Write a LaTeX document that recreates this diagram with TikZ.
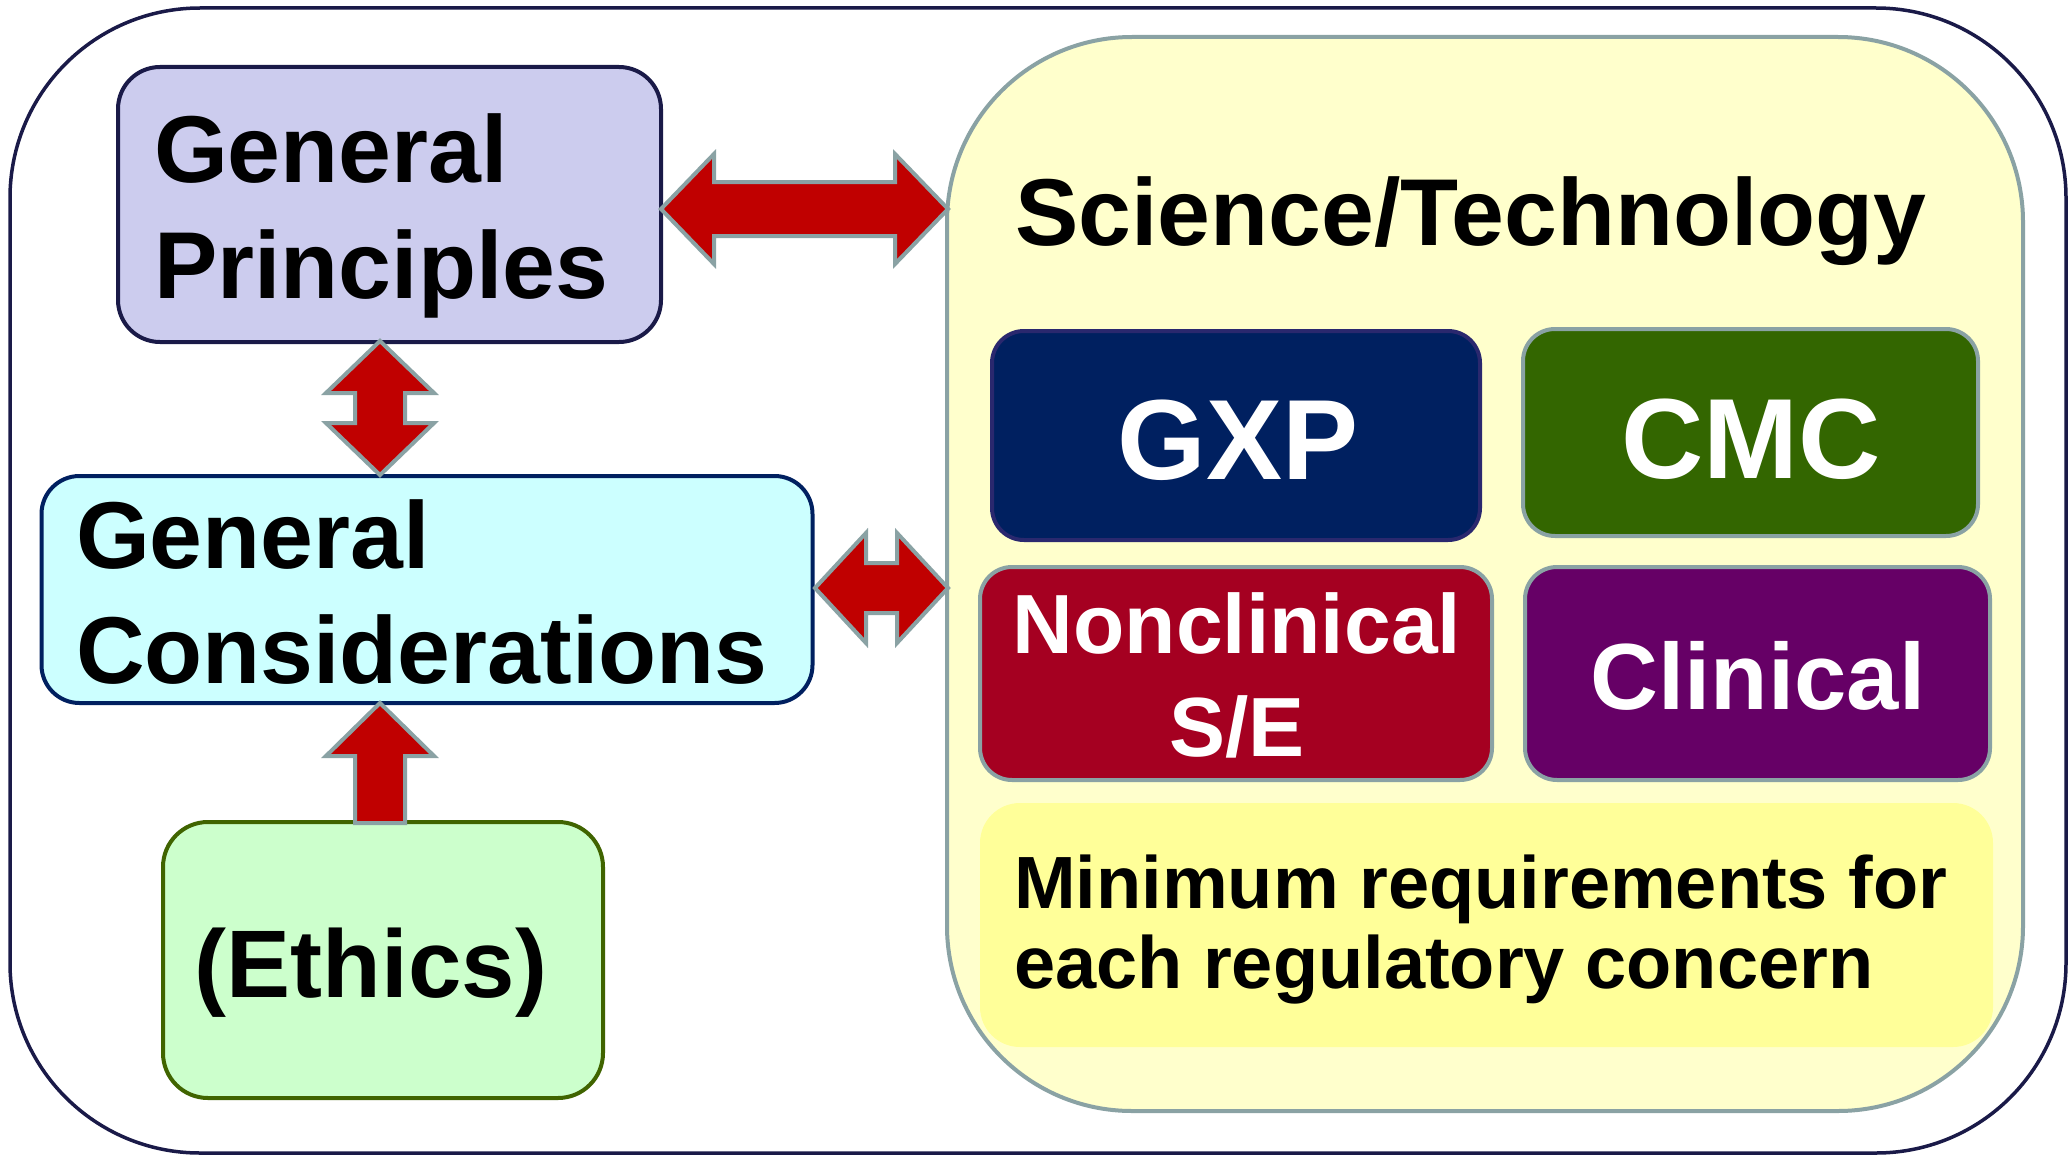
\documentclass[tikz,border=0pt]{standalone}
\usepackage{fontspec}
\setmainfont{Liberation Sans}
\usetikzlibrary{calc}
\definecolor{navyline}{RGB}{26,26,72}
\definecolor{grayline}{RGB}{138,162,164}
\definecolor{arrowred}{RGB}{192,0,0}
\definecolor{gpfill}{RGB}{204,204,238}
\definecolor{gcfill}{RGB}{204,255,255}
\definecolor{gcline}{RGB}{0,32,96}
\definecolor{ethfill}{RGB}{204,255,204}
\definecolor{ethline}{RGB}{64,100,0}
\definecolor{scifill}{RGB}{255,255,204}
\definecolor{gxpfill}{RGB}{0,32,96}
\definecolor{gxpline}{RGB}{42,40,110}
\definecolor{cmcfill}{RGB}{51,102,0}
\definecolor{ncfill}{RGB}{165,0,33}
\definecolor{clfill}{RGB}{102,0,102}
\definecolor{minfill}{RGB}{255,255,153}
\tikzset{
  box/.style={rectangle, inner sep=0pt, outer sep=0pt},
  blockarrow/.style={fill=arrowred, draw=grayline, line width=4pt, miter limit=10},
  txt/.style={inner sep=0pt, outer sep=0pt, font=\bfseries},
}
\begin{document}
\begin{tikzpicture}[x=1pt,y=-1pt]
\useasboundingbox (0,0) rectangle (2072,1156);
% outer frame
\node[box, draw=navyline, line width=3.5pt, fill=white, rounded corners=190pt,
  minimum width=2056pt, minimum height=1145pt] (outer) at (1038,580.5) {};
% science / technology container
\node[box, draw=grayline, line width=4pt, fill=scifill, rounded corners=185pt,
  minimum width=1076pt, minimum height=1074pt] (sci) at (1485,574) {};
\node[box, fill=minfill, rounded corners=40pt,
  minimum width=1013pt, minimum height=244pt] (minreq) at (1486.5,925) {};
% inner category boxes
\node[box, draw=gxpline, line width=4pt, fill=gxpfill, rounded corners=32pt,
  minimum width=488pt, minimum height=209pt] (gxp) at (1236,435.5) {};
\node[box, draw=grayline, line width=4pt, fill=cmcfill, rounded corners=32pt,
  minimum width=455pt, minimum height=207pt] (cmc) at (1750.5,432.5) {};
\node[box, draw=grayline, line width=4pt, fill=ncfill, rounded corners=32pt,
  minimum width=512pt, minimum height=213pt] (noncl) at (1236,673.5) {};
\node[box, draw=grayline, line width=4pt, fill=clfill, rounded corners=32pt,
  minimum width=465pt, minimum height=213pt] (clin) at (1757.5,673.5) {};
% left boxes
\node[box, draw=navyline, line width=4pt, fill=gpfill, rounded corners=42pt,
  minimum width=543pt, minimum height=275pt] (gp) at (389.5,204.5) {};
\node[box, draw=gcline, line width=4pt, fill=gcfill, rounded corners=38pt,
  minimum width=771pt, minimum height=227pt] (gc) at (427,589.5) {};
\node[box, draw=ethline, line width=4pt, fill=ethfill, rounded corners=45pt,
  minimum width=440pt, minimum height=276pt] (eth) at (383,960) {};
% coordinates for arrows
\coordinate (a1s) at (661,209);
\coordinate (a1e) at (948,209);
\coordinate (a2s) at (380,341);
\coordinate (a2e) at (380,475);
\coordinate (a3s) at (815,588);
\coordinate (a3e) at (948,588);
\coordinate (a4s) at (380,823);
\coordinate (a4e) at (380,703);
% horizontal double arrow GP <-> Sci
\draw[blockarrow] let \p1=(a1s), \p2=(a1e) in
  (\x1,\y1) -- (\x1+53pt,\y1+55pt) -- (\x1+53pt,\y1+27pt) -- (\x2-53pt,\y1+27pt)
  -- (\x2-53pt,\y1+55pt) -- (\x2,\y1) -- (\x2-53pt,\y1-55pt) -- (\x2-53pt,\y1-27pt)
  -- (\x1+53pt,\y1-27pt) -- (\x1+53pt,\y1-55pt) -- cycle;
% vertical double arrow GP <-> GC
\draw[blockarrow] let \p1=(a2s), \p2=(a2e) in
  (\x1,\y1) -- (\x1+54pt,\y1-52pt) -- (\x1+25pt,\y1-52pt) -- (\x1+25pt,\y2+52pt)
  -- (\x1+54pt,\y2+52pt) -- (\x1,\y2) -- (\x1-54pt,\y2+52pt) -- (\x1-25pt,\y2+52pt)
  -- (\x1-25pt,\y1-52pt) -- (\x1-54pt,\y1-52pt) -- cycle;
% horizontal double arrow GC <-> Sci
\draw[blockarrow] let \p1=(a3s), \p2=(a3e) in
  (\x1,\y1) -- (\x1+51pt,\y1+55pt) -- (\x1+51pt,\y1+25pt) -- (\x2-51pt,\y1+25pt)
  -- (\x2-51pt,\y1+55pt) -- (\x2,\y1) -- (\x2-51pt,\y1-55pt) -- (\x2-51pt,\y1-25pt)
  -- (\x1+51pt,\y1-25pt) -- (\x1+51pt,\y1-55pt) -- cycle;
% up arrow Ethics -> GC
\draw[blockarrow] let \p1=(a4s), \p2=(a4e) in
  (\x2,\y2) -- (\x2+54pt,\y2-53pt) -- (\x2+25pt,\y2-53pt) -- (\x2+25pt,\y1)
  -- (\x2-25pt,\y1) -- (\x2-25pt,\y2-53pt) -- (\x2-54pt,\y2-53pt) -- cycle;
% texts
\node[txt, anchor=base west, font=\bfseries\fontsize{95}{110}\selectfont] (gpt1) at (154,182) {General};
\node[txt, anchor=base west, font=\bfseries\fontsize{95}{110}\selectfont] (gpt2) at (154,298) {Principles};
\node[txt, anchor=base west, font=\bfseries\fontsize{95}{110}\selectfont] (gct1) at (76,568) {General};
\node[txt, anchor=base west, font=\bfseries\fontsize{95}{110}\selectfont] (gct2) at (76,683) {Considerations};
\node[txt, anchor=base, font=\bfseries\fontsize{96}{110}\selectfont] (etht) at (371,997) {(Ethics)};
\node[txt, anchor=base west, font=\bfseries\fontsize{95}{110}\selectfont] (scit) at (1015,245) {Science/Technology};
\node[txt, anchor=base, text=white, font=\bfseries\fontsize{114}{130}\selectfont] (gxpt) at (1238,479) {GXP};
\node[txt, anchor=base, text=white, font=\bfseries\fontsize{114}{130}\selectfont] (cmct) at (1751,478) {CMC};
\node[txt, anchor=base, text=white, font=\bfseries\fontsize{84}{100}\selectfont] (nct1) at (1237,653) {Nonclinical};
\node[txt, anchor=base, text=white, font=\bfseries\fontsize{84}{100}\selectfont] (nct2) at (1237,756) {S/E};
\node[txt, anchor=base, text=white, font=\bfseries\fontsize{94}{110}\selectfont] (clt) at (1758,709) {Clinical};
\node[txt, anchor=base west, font=\bfseries\fontsize{74}{86}\selectfont] (mint1) at (1014,908) {Minimum requirements for};
\node[txt, anchor=base west, font=\bfseries\fontsize{74}{86}\selectfont] (mint2) at (1014,988) {each regulatory concern};
\end{tikzpicture}
\end{document}
